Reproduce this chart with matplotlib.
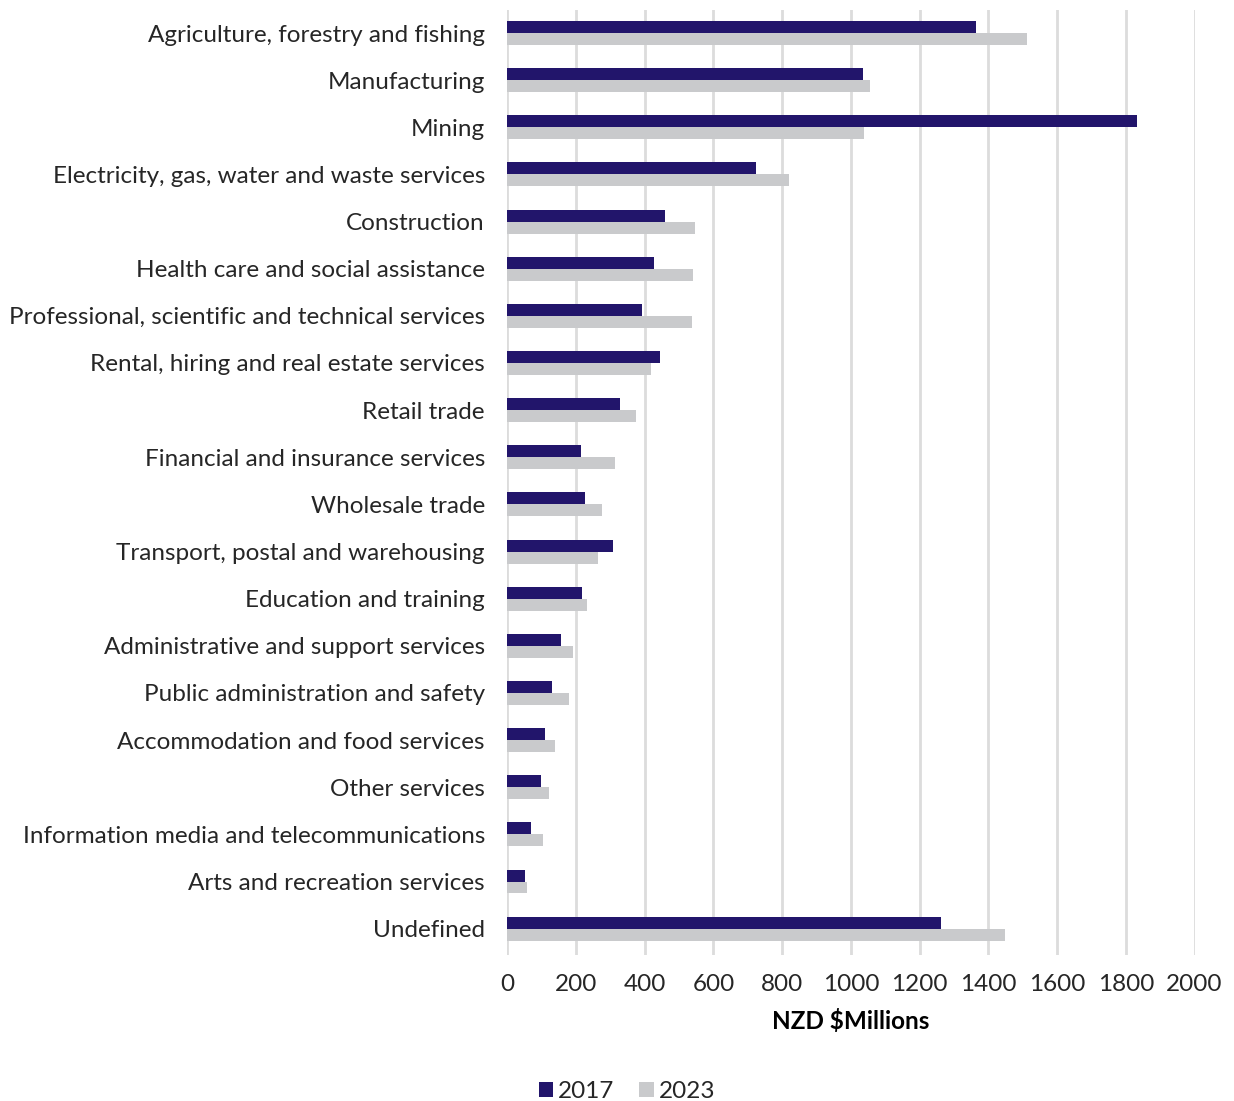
import matplotlib
matplotlib.use("Agg")
import matplotlib.pyplot as plt
import numpy as np

plt.rcParams['font.family'] = ['Lato', 'DejaVu Sans']

# Industry spend by year (NZD $ millions)
industries = [
    'Agriculture, forestry and fishing',
    'Manufacturing',
    'Mining',
    'Electricity, gas, water and waste services',
    'Construction',
    'Health care and social assistance',
    'Professional, scientific and technical services',
    'Rental, hiring and real estate services',
    'Retail trade',
    'Financial and insurance services',
    'Wholesale trade',
    'Transport, postal and warehousing',
    'Education and training',
    'Administrative and support services',
    'Public administration and safety',
    'Accommodation and food services',
    'Other services',
    'Information media and telecommunications',
    'Arts and recreation services',
    'Undefined',
]
values_2017 = [1364, 1035, 1834, 723, 458, 426, 391, 446, 327, 214, 226, 309,
               219, 158, 131, 111, 98, 68, 51, 1263]
values_2023 = [1512, 1055, 1039, 820, 546, 541, 538, 418, 375, 313, 276, 264,
               231, 191, 181, 138, 121, 104, 57, 1449]
x_ticks = [0, 200, 400, 600, 800, 1000, 1200, 1400, 1600, 1800, 2000]

color_2017 = '#22156B'
color_2023 = '#C9CACC'

fig = plt.figure(figsize=(12.34, 11.01), dpi=100)
ax = fig.add_axes([0.411, 0.133, 0.557, 0.858])

y = np.arange(len(industries))
h = 0.254
ax.barh(y - h / 2, values_2017, height=h, color=color_2017, label='2017', zorder=3)
ax.barh(y + h / 2, values_2023, height=h, color=color_2023, label='2023', zorder=3)

ax.set_ylim(len(industries) - 0.45, -0.49)
ax.set_xlim(0, 2000)
ax.set_xticks(x_ticks)
ax.set_xticklabels([str(t) for t in x_ticks])
ax.set_yticks(y)
ax.set_yticklabels(industries)

ax.tick_params(axis='both', length=0, labelsize=17.5, colors='#262626')
ax.tick_params(axis='y', pad=16)
ax.tick_params(axis='x', pad=14)

ax.grid(axis='x', color='#DCDCDC', linewidth=2, zorder=0)
for s in ax.spines.values():
    s.set_visible(False)

ax.set_xlabel('NZD $Millions', fontsize=17.5, fontweight='bold', labelpad=10)

leg = fig.legend(loc='lower center', bbox_to_anchor=(0.508, -0.021), ncol=2, frameon=False,
                 fontsize=17.5, handlelength=0.6, handleheight=0.6,
                 handletextpad=0.2, columnspacing=1.0)
for t in leg.get_texts():
    t.set_color('#262626')

fig.savefig('out.png', dpi=100, facecolor='white')
